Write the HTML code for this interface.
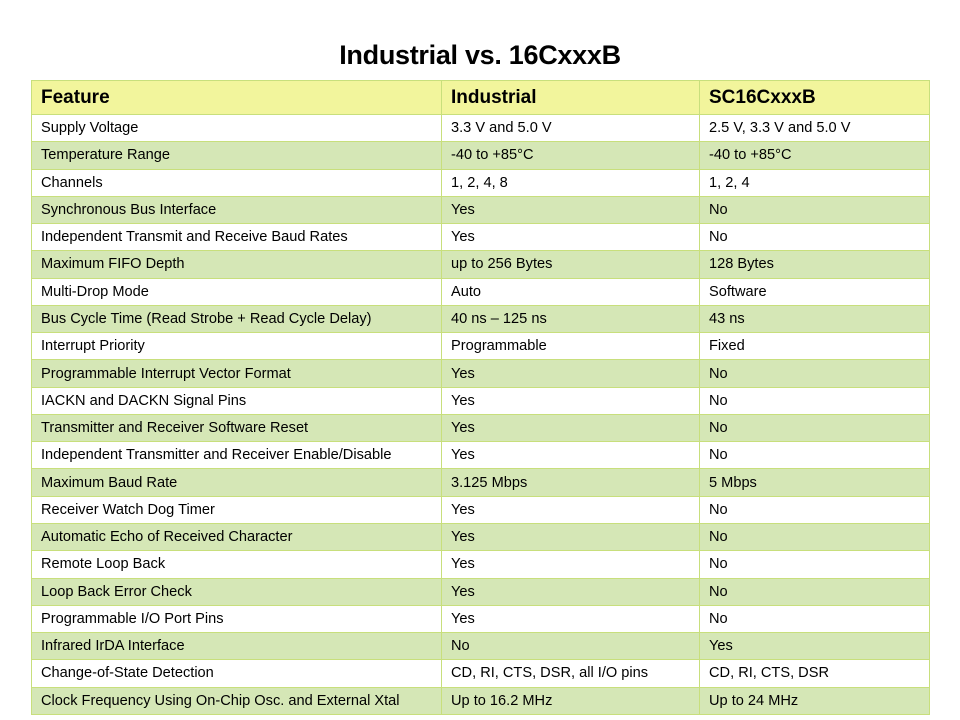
<!DOCTYPE html>
<html><head><meta charset="utf-8"><style>
body{margin:0;width:960px;height:720px;background:#fff;font-family:"Liberation Sans",sans-serif;position:relative;overflow:hidden}
h1{position:absolute;top:40px;left:0;width:960px;text-align:center;margin:0;font-size:27px;font-weight:bold;color:#000;letter-spacing:-0.3px}
table{position:absolute;left:31px;top:80px;width:898px;border-collapse:collapse;table-layout:fixed;font-size:14.6px;color:#000}
td{border:1px solid #c8df7c;padding:0 0 0 9px;height:26.27px;white-space:nowrap;overflow:hidden}
tr.h td{background:#f2f59c;font-size:19px;font-weight:bold;height:33px}
tr.g td{background:#d5e7b6}
</style></head><body>
<h1>Industrial vs. 16CxxxB</h1>
<table>
<colgroup><col style="width:410px"><col style="width:258px"><col style="width:230px"></colgroup>
<tr class="h"><td>Feature</td><td>Industrial</td><td>SC16CxxxB</td></tr>
<tr><td>Supply Voltage</td><td>3.3 V and 5.0 V</td><td>2.5 V, 3.3 V and 5.0 V</td></tr>
<tr class="g"><td>Temperature Range</td><td>-40 to +85°C</td><td>-40 to +85°C</td></tr>
<tr><td>Channels</td><td>1, 2, 4, 8</td><td>1, 2, 4</td></tr>
<tr class="g"><td>Synchronous Bus Interface</td><td>Yes</td><td>No</td></tr>
<tr><td>Independent Transmit and Receive Baud Rates</td><td>Yes</td><td>No</td></tr>
<tr class="g"><td>Maximum FIFO Depth</td><td>up to 256 Bytes</td><td>128 Bytes</td></tr>
<tr><td>Multi-Drop Mode</td><td>Auto</td><td>Software</td></tr>
<tr class="g"><td>Bus Cycle Time (Read Strobe + Read Cycle Delay)</td><td>40 ns – 125 ns</td><td>43 ns</td></tr>
<tr><td>Interrupt Priority</td><td>Programmable</td><td>Fixed</td></tr>
<tr class="g"><td>Programmable Interrupt Vector Format</td><td>Yes</td><td>No</td></tr>
<tr><td>IACKN and DACKN Signal Pins</td><td>Yes</td><td>No</td></tr>
<tr class="g"><td>Transmitter and Receiver Software Reset</td><td>Yes</td><td>No</td></tr>
<tr><td>Independent Transmitter and Receiver Enable/Disable</td><td>Yes</td><td>No</td></tr>
<tr class="g"><td>Maximum Baud Rate</td><td>3.125 Mbps</td><td>5 Mbps</td></tr>
<tr><td>Receiver Watch Dog Timer</td><td>Yes</td><td>No</td></tr>
<tr class="g"><td>Automatic Echo of Received Character</td><td>Yes</td><td>No</td></tr>
<tr><td>Remote Loop Back</td><td>Yes</td><td>No</td></tr>
<tr class="g"><td>Loop Back Error Check</td><td>Yes</td><td>No</td></tr>
<tr><td>Programmable I/O Port Pins</td><td>Yes</td><td>No</td></tr>
<tr class="g"><td>Infrared IrDA Interface</td><td>No</td><td>Yes</td></tr>
<tr><td>Change-of-State Detection</td><td>CD, RI, CTS, DSR, all I/O pins</td><td>CD, RI, CTS, DSR</td></tr>
<tr class="g"><td>Clock Frequency Using On-Chip Osc. and External Xtal</td><td>Up to 16.2 MHz</td><td>Up to 24 MHz</td></tr>
</table>
</body></html>
